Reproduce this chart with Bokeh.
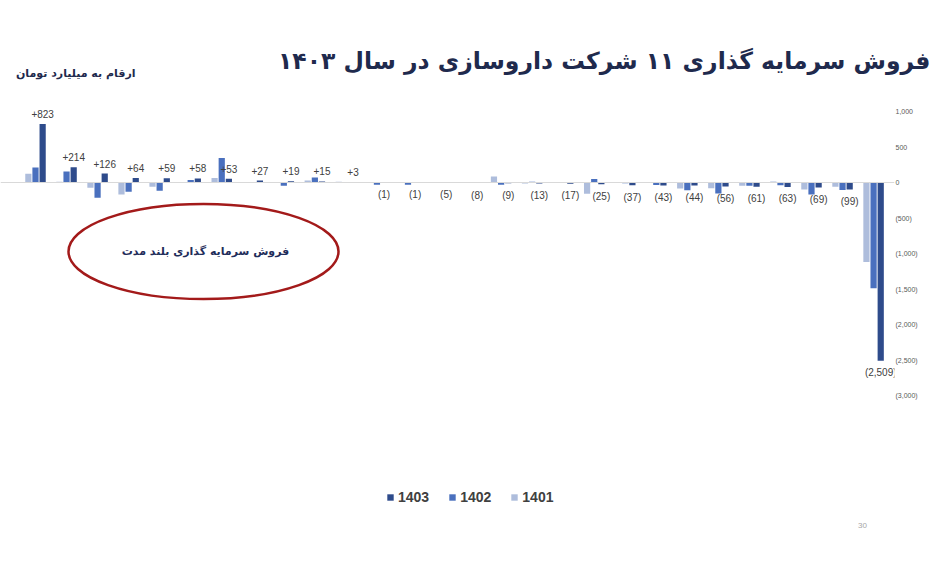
from bokeh.plotting import figure
from bokeh.layouts import column
from bokeh.models import (LinearAxis, FixedTicker, Span, Label, Legend, LegendItem,
                          ColumnDataSource, Range1d)
from bokeh.transform import dodge
from bokeh.core.properties import value
from bokeh.embed import file_html
from bokeh.resources import INLINE

# ---------------- data ----------------
title_text = "فروش سرمایه گذاری ۱۱ شرکت داروسازی در سال ۱۴۰۳"
subtitle_text = "ارقام به میلیارد تومان"
note_text = "فروش سرمایه گذاری بلند مدت"
page_no = "30"
years = ["1403", "1402", "1401"]
groups = list(range(28))   # company names are blurred in the reference
v1401 = [125, 10, -75, -170, -60, 5, 65, 3, 3, 28, 10, -3, -3, 5, 3, 85, -15, 2,
         -160, -5, -8, -85, -80, -45, 15, -100, -60, -1120]
v1402 = [210, 155, -215, -130, -115, 35, 345, 2, -45, 70, -5, -30, -30, -3, 2, -30, 10, 0,
         50, -10, -35, -110, -155, -45, -40, -170, -105, -1490]
v1403 = [823, 214, 126, 64, 59, 58, 53, 27, 19, 15, 3, -1, -1, -5, -8, -9, -13, -17,
         -25, -37, -43, -44, -56, -61, -63, -69, -99, -2509]
tick_values = [1000, 500, 0, -500, -1000, -1500, -2000, -2500, -3000]
tick_labels = ["1,000", "500", "0", "(500)", "(1,000)", "(1,500)", "(2,000)", "(2,500)", "(3,000)"]

# ---------------- layout helpers ----------------
W = 941
HEAD_H = 95
H = 558 - HEAD_H
FRAME_W = 894
PX_X = 31.04          # px per group
K = 0.071             # px per unit
X0 = -35 / PX_X
X1 = X0 + FRAME_W / PX_X
Y1 = (182 - HEAD_H) / K
Y0 = Y1 - H / K


def xd(sx):
    return X0 + sx / PX_X


def yd(sy):
    return Y1 - (sy - HEAD_H) / K


C1401, C1402, C1403 = "#AEBDDC", "#4A70BE", "#2E4B8B"
FONT = "Liberation Sans"
AR_FONT = "DejaVu Sans"
NAVY = "#1F2A4D"

# ---------------- header ----------------
head = figure(width=W, height=HEAD_H, output_backend="svg", toolbar_location=None,
              x_axis_type=None, y_axis_type=None,
              x_range=Range1d(0, W), y_range=Range1d(HEAD_H, 0),
              min_border_left=0, min_border_right=0, min_border_top=0,
              min_border_bottom=0, outline_line_color=None)
head.frame_align = False
head.add_layout(Label(x=930, y=60, text=title_text, text_align="right",
                      text_baseline="middle", text_font=AR_FONT, text_font_size="23.5px",
                      text_font_style="bold", text_color=NAVY))
head.add_layout(Label(x=135, y=73, text=subtitle_text, text_align="right",
                      text_baseline="middle", text_font=AR_FONT, text_font_size="11px",
                      text_font_style="bold", text_color=NAVY))

# ---------------- chart ----------------
labels = [("+{:,}".format(v) if v >= 0 else "({:,})".format(-v)) for v in v1403]
yoff = [-10 if v >= 0 else 12 for v in v1403]
src = ColumnDataSource(dict(g=groups, v1401=v1401, v1402=v1402, v1403=v1403,
                            lab=labels, yoff=yoff))

p = figure(width=W, height=H, output_backend="svg", toolbar_location=None,
           x_axis_type=None, y_axis_type=None,
           x_range=Range1d(X0, X1), y_range=Range1d(Y0, Y1),
           min_border_left=0, min_border_right=W - FRAME_W, min_border_top=0,
           min_border_bottom=0, outline_line_color=None)
p.frame_align = False
p.background_fill_color = "white"
p.border_fill_color = "white"

p.add_layout(Span(location=0, dimension="width", line_color="#D9D9D9", line_width=1))

r1 = p.vbar(x=dodge("g", -0.23, range=p.x_range), top="v1401", width=0.2, source=src,
            fill_color=C1401, line_color=None)
r2 = p.vbar(x=dodge("g", 0.0, range=p.x_range), top="v1402", width=0.2, source=src,
            fill_color=C1402, line_color=None)
r3 = p.vbar(x=dodge("g", 0.23, range=p.x_range), top="v1403", width=0.2, source=src,
            fill_color=C1403, line_color=None)

p.text(x=dodge("g", 0.23, range=p.x_range), y="v1403", text="lab", y_offset="yoff",
       source=src, text_align="center", text_baseline="middle",
       text_font=value(FONT), text_font_size="10px", text_color="#404040")

yaxis = LinearAxis(ticker=FixedTicker(ticks=tick_values),
                   major_label_overrides=dict(zip(tick_values, tick_labels)),
                   axis_line_color=None, major_tick_line_color=None,
                   minor_tick_line_color=None, major_tick_in=0, major_tick_out=0,
                   minor_tick_in=0, minor_tick_out=0, major_label_standoff=1,
                   major_label_text_font=FONT, major_label_text_font_size="7px",
                   major_label_text_color="#595959")
p.add_layout(yaxis, "right")

# annotation ellipse
p.ellipse(x=[xd(203)], y=[yd(251)], width=270 / PX_X, height=95 / K,
          fill_color=None, line_color="#A31A1A", line_width=2.5)
p.add_layout(Label(x=xd(205), y=yd(251), text=note_text, text_align="center",
                   text_baseline="middle", text_font=AR_FONT, text_font_size="11px",
                   text_font_style="bold", text_color="#1F2D5A"))

p.add_layout(Label(x=xd(862), y=yd(525), text=page_no, text_align="center",
                   text_baseline="middle", text_font=FONT, text_font_size="8px",
                   text_color="#A6A6A6"))

legend = Legend(items=[LegendItem(label=years[0], renderers=[r3]),
                       LegendItem(label=years[1], renderers=[r2]),
                       LegendItem(label=years[2], renderers=[r1])],
                orientation="horizontal", location=(386, 53),
                glyph_width=8, glyph_height=8, label_standoff=4, spacing=19,
                padding=0, margin=0, border_line_color=None,
                background_fill_alpha=0, label_text_font=FONT,
                label_text_font_size="14px", label_text_font_style="bold",
                label_text_color="#404040")
p.add_layout(legend)

layout = column(head, p, spacing=0)
open("out.html", "w").write(file_html(layout, INLINE))
